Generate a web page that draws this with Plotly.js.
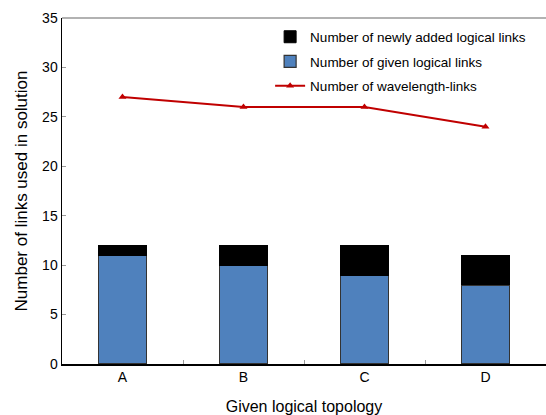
<!DOCTYPE html>
<html><head><meta charset="utf-8">
<script src="https://cdn.plot.ly/plotly-3.0.1.min.js"></script>
<style>html,body{margin:0;padding:0;background:#fff}#c{width:546px;height:415px}</style>
</head><body><div id="c"></div>
<script>
var categories = ['A','B','C','D'];
var givenLinks = [11, 10, 9, 8];
var newLinks = [1, 2, 3, 3];
var wavelengthLinks = [27, 26, 26, 24];

var font = 'Liberation Sans, Arial, sans-serif';
var traces = [
  {type:'bar', x:categories, y:givenLinks, name:'Number of given logical links', legendrank:2, legendgroup:'g2',
   width:0.4, marker:{color:'#4f81bd', line:{color:'#333333', width:1.2}}},
  {type:'bar', x:categories, y:newLinks, name:'Number of newly added logical links', legendrank:1, legendgroup:'g1',
   width:0.4, marker:{color:'#000000', line:{color:'#000000', width:1}}},
  {type:'scatter', mode:'lines+markers', x:categories, y:wavelengthLinks, name:'Number of wavelength-links', legendrank:3, legendgroup:'g3',
   line:{color:'#c00000', width:2}, marker:{symbol:'triangle-up', size:7, color:'#c00000'}}
];
var layout = {
  width:546, height:415,
  margin:{l:62, r:0, t:18, b:51, autoexpand:false},
  paper_bgcolor:'#fff', plot_bgcolor:'#fff',
  barmode:'stack',
  font:{family:font, color:'#000', size:14},
  showlegend:true,
  legend:{x:0.43, y:0.99, xanchor:'left', yanchor:'top', traceorder:'grouped', bgcolor:'rgba(0,0,0,0)', font:{size:13.5, family:font}, tracegroupgap:4, itemwidth:30},
  xaxis:{range:[-0.5,3.5], showline:true, linecolor:'#000', linewidth:1.5, ticks:'inside', tickson:'boundaries', ticklen:4, tickcolor:'#999',
         showgrid:false, tickfont:{size:14}, title:{text:'Given logical topology', font:{size:16}, standoff:16}},
  yaxis:{range:[0,35], dtick:5, showline:true, linecolor:'#000', linewidth:1.5, ticks:'inside', ticklen:4, tickcolor:'#999',
         showgrid:false, zeroline:false, tickfont:{size:14}, title:{text:'Number of links used in solution', font:{size:17}, standoff:10}},
  shapes:[{type:'line', xref:'paper', yref:'paper', x0:0, x1:1, y0:1, y1:1, line:{color:'#999', width:1.5}}]
};
Plotly.newPlot('c', traces, layout, {displayModeBar:false, staticPlot:true});
</script></body></html>
